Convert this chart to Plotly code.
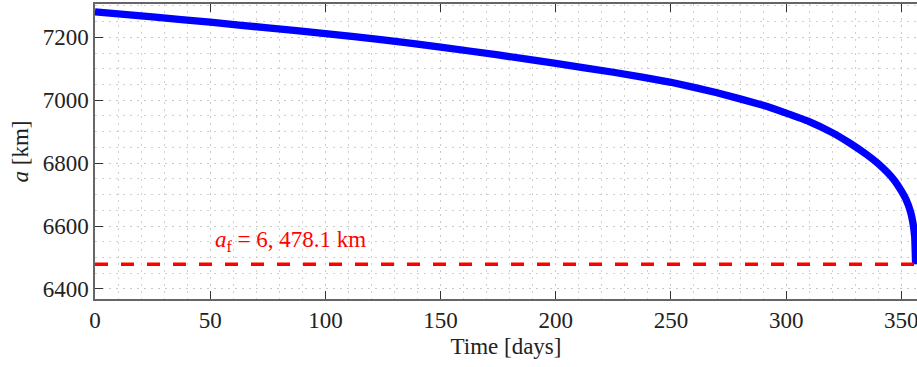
import plotly.graph_objects as go

# Data
time_days = [0, 25, 50, 75, 100, 125, 150, 175, 200, 225, 250, 270, 290, 300, 310,
             320, 328, 335, 340, 344, 347, 350, 352, 354, 355, 355.8, 356.2]
a_km = [7281, 7265, 7248, 7230, 7212, 7192, 7169, 7144, 7117, 7089, 7057, 7024, 6984, 6959,
        6932, 6897, 6862, 6827, 6798, 6770, 6745, 6712, 6685, 6645, 6612, 6565, 6478]
a_final = 6478.1
x_ticks = [0, 50, 100, 150, 200, 250, 300, 350]
y_ticks = [6400, 6600, 6800, 7000, 7200]

FONT = "Liberation Serif"
FS = 23

fig = go.Figure()
fig.add_trace(go.Scatter(
    x=time_days, y=a_km, mode="lines",
    line=dict(color="#0000ff", width=7.3, shape="spline", smoothing=0.3),
    showlegend=False, hoverinfo="skip"))
fig.add_trace(go.Scatter(
    x=[0, 356.8], y=[a_final, a_final], mode="lines",
    line=dict(color="#ff0000", width=3.5, dash="13px,13px"),
    showlegend=False, hoverinfo="skip"))

fig.add_annotation(
    x=85, y=6553, xref="x", yref="y",
    text="<i>a</i><sub>f</sub> = 6, 478.1 km",
    showarrow=False, font=dict(family=FONT, size=FS, color="#ff0000"))

grid_dash = "2px,5px"
fig.update_xaxes(
    range=[0, 356.8], tickvals=x_ticks, ticktext=[str(v) for v in x_ticks],
    ticklabeloverflow="allow",
    showline=True, linecolor="#666666", linewidth=1.5, mirror="ticks",
    ticks="inside", ticklen=8, tickcolor="#333333", tickwidth=1,
    showgrid=True, gridcolor="#c8c8c8", griddash=grid_dash, gridwidth=1,
    minor=dict(dtick=10, tick0=0, showgrid=True, gridcolor="#d0d0d0", griddash=grid_dash, gridwidth=1),
    zeroline=False,
    tickfont=dict(family=FONT, size=FS, color="#222222"),
    title=dict(text="Time [days]", font=dict(family=FONT, size=FS, color="#222222"), standoff=6),
)
fig.update_yaxes(
    range=[6368, 7306], tickvals=y_ticks, ticktext=[str(v) for v in y_ticks],
    showline=True, linecolor="#666666", linewidth=1.5, mirror=False,
    ticks="inside", ticklen=8, tickcolor="#333333", tickwidth=1,
    showgrid=True, gridcolor="#c8c8c8", griddash=grid_dash, gridwidth=1,
    minor=dict(dtick=50, tick0=6400, showgrid=True, gridcolor="#d0d0d0", griddash=grid_dash, gridwidth=1),
    zeroline=False,
    tickfont=dict(family=FONT, size=FS, color="#222222"),
    title=dict(text="<i>a</i> [km]", font=dict(family=FONT, size=FS, color="#222222"), standoff=8),
)
fig.update_layout(
    width=917, height=367,
    margin=dict(l=95, r=0, t=4, b=68, autoexpand=False),
    paper_bgcolor="white", plot_bgcolor="white",
)
fig.write_html("out.html", config={"displayModeBar": False},
               post_script="document.body.style.margin='0';document.body.style.overflow='hidden';")
